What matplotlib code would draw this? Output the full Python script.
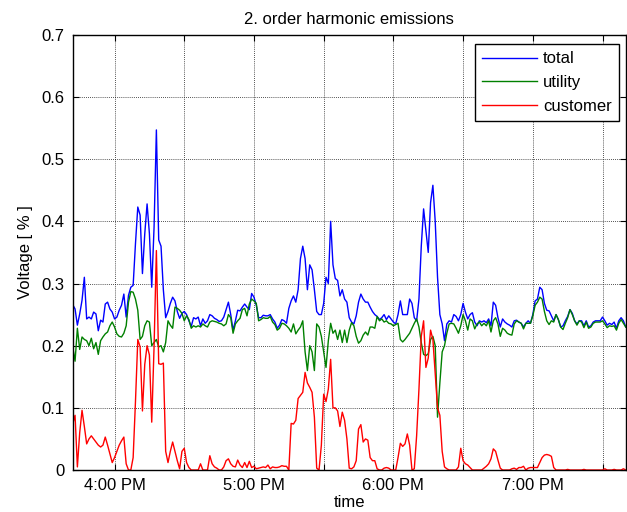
import matplotlib
matplotlib.use('Agg')
import matplotlib.pyplot as plt
import matplotlib.dates as mdates
from matplotlib.ticker import FuncFormatter
from datetime import datetime, timedelta

# one sample per minute, starting 3:42 PM
start = datetime(2020, 1, 1, 15, 42)

total = [0.266, 0.259, 0.233, 0.251, 0.273, 0.310, 0.243, 0.246, 0.243, 0.254, 0.251, 0.224, 0.241, 0.238, 0.267, 0.270, 0.259, 0.254,
         0.243, 0.246, 0.257, 0.265, 0.283, 0.246, 0.281, 0.294, 0.297, 0.364, 0.423, 0.41, 0.316, 0.38, 0.428, 0.38, 0.294, 0.39, 0.547, 0.37,
         0.36, 0.29, 0.245, 0.255, 0.268, 0.278, 0.272, 0.255, 0.244, 0.252, 0.255, 0.25, 0.24, 0.231, 0.245, 0.243, 0.246, 0.232, 0.243, 0.236,
         0.24, 0.25, 0.248, 0.244, 0.242, 0.239, 0.24, 0.246, 0.258, 0.27, 0.25, 0.225, 0.24, 0.257, 0.256, 0.262, 0.267, 0.262, 0.258, 0.284,
         0.278, 0.265, 0.245, 0.245, 0.249, 0.248, 0.248, 0.25, 0.243, 0.238, 0.228, 0.233, 0.242, 0.24, 0.236, 0.26, 0.272, 0.28, 0.27, 0.29,
         0.34, 0.36, 0.34, 0.29, 0.33, 0.322, 0.29, 0.255, 0.25, 0.25, 0.268, 0.31, 0.3, 0.4, 0.33, 0.308, 0.305, 0.28, 0.29, 0.275,
         0.27, 0.245, 0.238, 0.235, 0.248, 0.27, 0.283, 0.275, 0.27, 0.27, 0.262, 0.255, 0.25, 0.247, 0.242, 0.245, 0.25, 0.242, 0.248, 0.243,
         0.238, 0.235, 0.25, 0.272, 0.25, 0.25, 0.25, 0.275, 0.268, 0.245, 0.24, 0.275, 0.36, 0.42, 0.385, 0.35, 0.43, 0.458, 0.4, 0.31,
         0.25, 0.235, 0.208, 0.235, 0.24, 0.238, 0.25, 0.247, 0.24, 0.25, 0.268, 0.254, 0.243, 0.25, 0.253, 0.238, 0.232, 0.24, 0.238, 0.24,
         0.237, 0.243, 0.232, 0.27, 0.265, 0.245, 0.23, 0.243, 0.238, 0.235, 0.233, 0.23, 0.24, 0.241, 0.238, 0.236, 0.23, 0.236, 0.24, 0.236,
         0.25, 0.272, 0.275, 0.294, 0.29, 0.268, 0.257, 0.256, 0.248, 0.24, 0.25, 0.242, 0.23, 0.232, 0.24, 0.247, 0.258, 0.252, 0.24, 0.235,
         0.24, 0.24, 0.232, 0.24, 0.23, 0.232, 0.238, 0.24, 0.24, 0.24, 0.246, 0.24, 0.233, 0.236, 0.234, 0.238, 0.228, 0.24, 0.245, 0.24, 0.23]

utility = [0.198, 0.175, 0.228, 0.194, 0.214, 0.21, 0.208, 0.2, 0.212, 0.195, 0.205, 0.186, 0.208, 0.214, 0.219, 0.222, 0.232, 0.238,
           0.23, 0.219, 0.215, 0.214, 0.22, 0.232, 0.27, 0.287, 0.286, 0.275, 0.257, 0.21, 0.215, 0.232, 0.24, 0.238, 0.2, 0.205, 0.21, 0.198,
           0.2, 0.19, 0.205, 0.24, 0.233, 0.228, 0.262, 0.26, 0.257, 0.252, 0.24, 0.248, 0.242, 0.228, 0.232, 0.23, 0.232, 0.23, 0.235, 0.232,
           0.23, 0.238, 0.24, 0.239, 0.238, 0.236, 0.235, 0.232, 0.235, 0.25, 0.245, 0.22, 0.235, 0.24, 0.244, 0.258, 0.26, 0.248, 0.267, 0.275,
           0.272, 0.268, 0.24, 0.242, 0.245, 0.244, 0.244, 0.247, 0.238, 0.234, 0.225, 0.228, 0.236, 0.235, 0.232, 0.228, 0.222, 0.235, 0.219, 0.225,
           0.23, 0.24, 0.19, 0.16, 0.2, 0.19, 0.16, 0.235, 0.23, 0.215, 0.19, 0.165, 0.208, 0.236, 0.22, 0.225, 0.21, 0.225, 0.205, 0.225,
           0.205, 0.225, 0.237, 0.232, 0.215, 0.204, 0.208, 0.217, 0.222, 0.217, 0.23, 0.23, 0.228, 0.247, 0.24, 0.243, 0.238, 0.24, 0.236, 0.235,
           0.232, 0.234, 0.236, 0.21, 0.206, 0.21, 0.215, 0.22, 0.228, 0.236, 0.243, 0.23, 0.205, 0.186, 0.184, 0.187, 0.21, 0.215, 0.2, 0.085,
           0.14, 0.19, 0.2, 0.22, 0.235, 0.236, 0.235, 0.228, 0.22, 0.232, 0.25, 0.24, 0.225, 0.243, 0.24, 0.227, 0.235, 0.238, 0.232, 0.236,
           0.232, 0.24, 0.222, 0.24, 0.245, 0.235, 0.215, 0.228, 0.225, 0.22, 0.218, 0.217, 0.235, 0.24, 0.238, 0.236, 0.227, 0.236, 0.236, 0.236,
           0.248, 0.265, 0.27, 0.278, 0.275, 0.255, 0.24, 0.234, 0.24, 0.238, 0.25, 0.242, 0.23, 0.226, 0.236, 0.245, 0.258, 0.25, 0.24, 0.233,
           0.24, 0.238, 0.229, 0.238, 0.228, 0.23, 0.236, 0.238, 0.238, 0.238, 0.24, 0.235, 0.229, 0.232, 0.231, 0.232, 0.225, 0.236, 0.242, 0.236, 0.23]

customer = [0.074, 0.088, 0.005, 0.06, 0.096, 0.07, 0.042, 0.05, 0.055, 0.05, 0.045, 0.04, 0.037, 0.04, 0.053, 0.04, 0.026, 0.012,
            0.02, 0.03, 0.04, 0.047, 0.053, 0.01, 0.0, 0.0, 0.02, 0.11, 0.21, 0.198, 0.095, 0.17, 0.2, 0.185, 0.077, 0.198, 0.353, 0.171,
            0.17, 0.172, 0.03, 0.012, 0.03, 0.045, 0.03, 0.015, 0.002, 0.03, 0.035, 0.012, 0.004, 0.0, 0.0, 0.0, 0.0, 0.01, 0.0, 0.0,
            0.0, 0.023, 0.01, 0.005, 0.003, 0.0, 0.0, 0.005, 0.015, 0.018, 0.01, 0.006, 0.005, 0.016, 0.008, 0.004, 0.012, 0.004, 0.014, 0.004,
            0.006, 0.002, 0.003, 0.004, 0.005, 0.004, 0.008, 0.002, 0.005, 0.004, 0.004, 0.005, 0.007, 0.006, 0.006, 0.0, 0.075, 0.074, 0.08, 0.115,
            0.12, 0.125, 0.157, 0.14, 0.133, 0.125, 0.085, 0.003, 0.0, 0.04, 0.122, 0.11, 0.13, 0.178, 0.1, 0.1, 0.095, 0.07, 0.093, 0.08,
            0.05, 0.003, 0.002, 0.005, 0.015, 0.066, 0.073, 0.045, 0.05, 0.048, 0.02, 0.015, 0.015, 0.002, 0.0, 0.0, 0.003, 0.004, 0.003, 0.0,
            0.0, 0.0, 0.02, 0.043, 0.038, 0.042, 0.058, 0.04, 0.0, 0.002, 0.055, 0.13, 0.215, 0.24, 0.165, 0.18, 0.225, 0.21, 0.155, 0.1,
            0.088, 0.03, 0.005, 0.002, 0.0, 0.0, 0.0, 0.0, 0.005, 0.035, 0.015, 0.01, 0.008, 0.004, 0.0, 0.0, 0.0, 0.0, 0.0, 0.003,
            0.006, 0.01, 0.018, 0.034, 0.03, 0.016, 0.003, 0.0, 0.0, 0.0, 0.0, 0.002, 0.003, 0.001, 0.004, 0.004, 0.006, 0.0, 0.003, 0.004,
            0.004, 0.004, 0.004, 0.012, 0.02, 0.024, 0.025, 0.024, 0.022, 0.004, 0.0, 0.0, 0.0, 0.0, 0.0, 0.001, 0.0, 0.0, 0.0, 0.0,
            0.0, 0.0, 0.001, 0.0, 0.0, 0.0, 0.0, 0.0, 0.0, 0.0, 0.0, 0.002, 0.0, 0.0, 0.0, 0.001, 0.0, 0.0, 0.0, 0.002, 0.0]

times = [start + timedelta(minutes=i) for i in range(len(total))]

plt.rcParams['font.family'] = ['Liberation Sans', 'DejaVu Sans']
plt.rcParams['font.size'] = 12

fig = plt.figure(figsize=(6.27, 5.12), dpi=100)
ax = fig.add_axes([0.116, 0.082, 0.882, 0.850])

ax.plot(times, total, color='#0000ff', lw=1.0, label='total')
ax.plot(times, utility, color='#008000', lw=1.0, label='utility')
ax.plot(times, customer, color='#ff0000', lw=1.0, label='customer')

ax.set_xlim(times[0], times[-1])
ax.set_ylim(0, 0.7)
ax.set_yticks([0, 0.1, 0.2, 0.3, 0.4, 0.5, 0.6, 0.7])
ax.yaxis.set_major_formatter(FuncFormatter(lambda v, p: '%g' % round(v, 2)))

# ticks every half hour, labels on the hour only
ax.xaxis.set_major_locator(mdates.MinuteLocator(byminute=[0, 30]))
def hour_label(x, pos):
    d = mdates.num2date(x)
    if d.minute != 0:
        return ''
    return d.strftime('%I:%M %p').lstrip('0')
ax.xaxis.set_major_formatter(FuncFormatter(hour_label))

ax.tick_params(direction='in', top=True, right=True, length=4, width=0.8, pad=6)
ax.grid(True, color='0.1', linestyle=(0, (1, 1.5)), linewidth=0.6)
for s in ax.spines.values():
    s.set_linewidth(1.0)

ax.set_title('2. order harmonic emissions', fontsize=12, pad=8)
ax.set_ylabel('Voltage [ % ]', labelpad=6)
ax.set_xlabel('time', labelpad=1)

leg = ax.legend(loc='upper right', bbox_to_anchor=(0.988, 0.979), borderaxespad=0,
                fancybox=False, edgecolor='k', framealpha=1, handlelength=3.3,
                handletextpad=0.35, labelspacing=0.52, borderpad=0.45)
leg.get_frame().set_linewidth(1.0)

fig.savefig('out.png', dpi=100)
